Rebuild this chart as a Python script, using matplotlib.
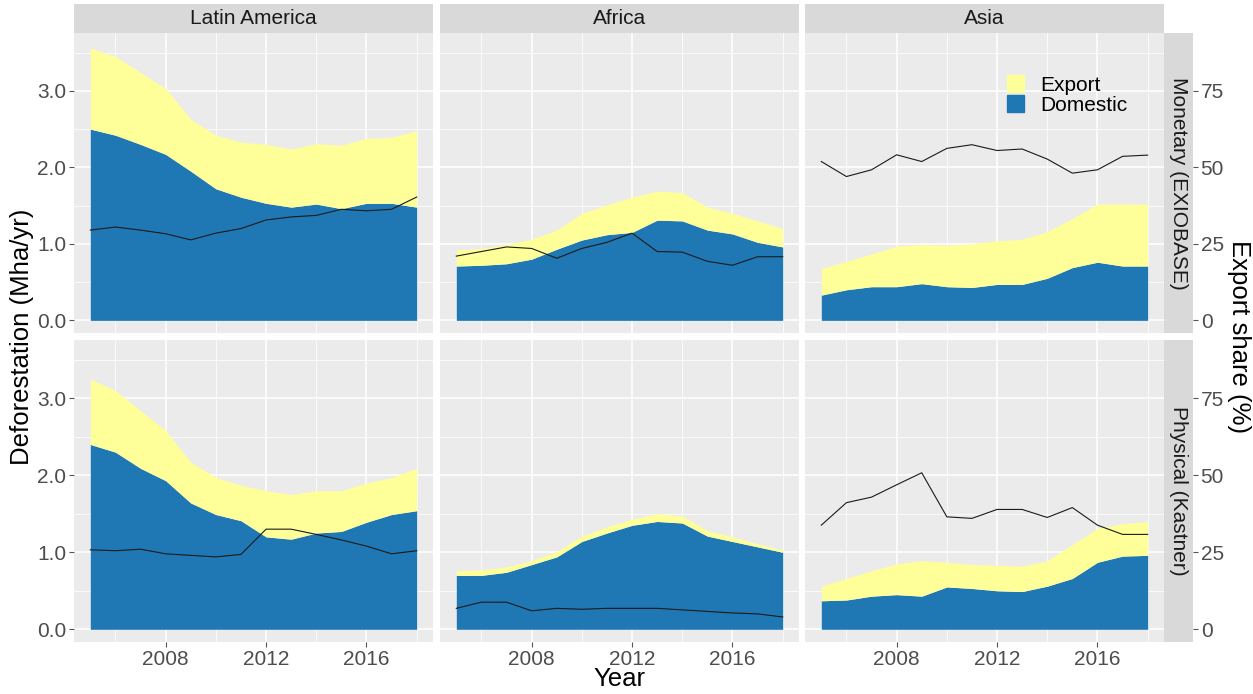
import matplotlib
matplotlib.use("Agg")
import matplotlib.pyplot as plt
from matplotlib.patches import Patch
import numpy as np

plt.rcParams['font.family'] = ['Liberation Sans', 'DejaVu Sans']

years = np.arange(2005, 2019)
regions = ["Latin America", "Africa", "Asia"]
methods = ["Monetary (EXIOBASE)", "Physical (Kastner)"]

# deforestation, Mha/yr
dom_mon = {
    "Latin America": [2.50, 2.42, 2.30, 2.17, 1.95, 1.72, 1.61, 1.53, 1.48, 1.52, 1.46, 1.53, 1.53, 1.48],
    "Africa": [0.71, 0.72, 0.74, 0.80, 0.93, 1.05, 1.12, 1.15, 1.31, 1.30, 1.18, 1.13, 1.02, 0.96],
    "Asia": [0.33, 0.40, 0.44, 0.44, 0.48, 0.44, 0.43, 0.47, 0.47, 0.55, 0.69, 0.76, 0.71, 0.71],
}
exp_mon = {
    "Latin America": [1.06, 1.03, 0.94, 0.86, 0.68, 0.70, 0.72, 0.77, 0.76, 0.79, 0.83, 0.85, 0.86, 1.00],
    "Africa": [0.21, 0.22, 0.25, 0.26, 0.25, 0.35, 0.39, 0.46, 0.38, 0.37, 0.30, 0.27, 0.28, 0.24],
    "Asia": [0.35, 0.37, 0.43, 0.53, 0.51, 0.54, 0.57, 0.57, 0.59, 0.61, 0.64, 0.76, 0.81, 0.81],
}
dom_phy = {
    "Latin America": [2.40, 2.30, 2.09, 1.93, 1.64, 1.49, 1.41, 1.20, 1.17, 1.25, 1.27, 1.39, 1.49, 1.54],
    "Africa": [0.70, 0.70, 0.74, 0.84, 0.94, 1.14, 1.25, 1.35, 1.40, 1.38, 1.21, 1.14, 1.07, 1.00],
    "Asia": [0.37, 0.38, 0.43, 0.45, 0.43, 0.55, 0.53, 0.50, 0.49, 0.56, 0.66, 0.87, 0.95, 0.96],
}
exp_phy = {
    "Latin America": [0.85, 0.80, 0.75, 0.65, 0.53, 0.48, 0.46, 0.60, 0.58, 0.55, 0.53, 0.51, 0.48, 0.55],
    "Africa": [0.06, 0.07, 0.07, 0.05, 0.07, 0.07, 0.08, 0.08, 0.10, 0.09, 0.07, 0.06, 0.04, 0.03],
    "Asia": [0.19, 0.28, 0.33, 0.40, 0.46, 0.32, 0.31, 0.33, 0.33, 0.33, 0.44, 0.44, 0.42, 0.44],
}
# export share, %
share_mon = {
    "Latin America": [29.5, 30.5, 29.5, 28.3, 26.3, 28.5, 30.0, 32.8, 33.8, 34.3, 36.3, 35.8, 36.3, 40.3],
    "Africa": [21.0, 22.5, 24.0, 23.5, 20.3, 23.5, 25.5, 28.5, 22.5, 22.3, 19.3, 18.0, 20.8, 20.8],
    "Asia": [51.9, 47.0, 49.2, 54.1, 51.9, 56.2, 57.4, 55.5, 56.0, 52.7, 48.1, 49.2, 53.6, 54.0],
}
share_phy = {
    "Latin America": [25.8, 25.5, 26.0, 24.5, 24.0, 23.5, 24.3, 32.5, 32.5, 30.8, 29.0, 27.0, 24.5, 25.5],
    "Africa": [6.8, 8.8, 8.8, 6.0, 6.8, 6.5, 6.8, 6.8, 6.8, 6.3, 5.8, 5.3, 5.0, 4.0],
    "Asia": [33.8, 41.1, 42.9, 46.9, 50.8, 36.5, 36.0, 38.9, 38.9, 36.3, 39.5, 33.8, 30.8, 30.8],
}

rows = [(dom_mon, exp_mon, share_mon), (dom_phy, exp_phy, share_phy)]

W, H = 1253, 694
col_x = [(74, 433), (440, 799), (805, 1164)]
row_y = [(33, 333), (340, 642)]
blue = "#1F78B4"
yellow = "#FFFF99"
ylim = (-0.165, 3.756)
xlim = (2004.35, 2018.65)
scale = 25.0


def box(x0, y0, x1, y1):
    return [x0 / W, 1 - y1 / H, (x1 - x0) / W, (y1 - y0) / H]


fig = plt.figure(figsize=(W / 100, H / 100), dpi=100)

for r, (dom, exp, share) in enumerate(rows):
    y0, y1 = row_y[r]
    for c, reg in enumerate(regions):
        x0, x1 = col_x[c]
        ax = fig.add_axes(box(x0, y0, x1, y1))
        ax.set_facecolor("#EBEBEB")
        d = np.array(dom[reg])
        e = np.array(exp[reg])
        ax.fill_between(years, 0, d, color=blue, lw=0, zorder=2)
        ax.fill_between(years, d, d + e, color=yellow, lw=0, zorder=2)
        ax.plot(years, np.array(share[reg]) / scale, color="#1A1A1A", lw=0.8, zorder=3)
        ax.set_xlim(*xlim)
        ax.set_ylim(*ylim)
        ax.set_xticks([2008, 2012, 2016])
        ax.set_xticks([2006, 2010, 2014, 2018], minor=True)
        ax.set_yticks([0, 1, 2, 3])
        ax.set_yticks([0.5, 1.5, 2.5, 3.5], minor=True)
        ax.grid(which="major", color="white", lw=1.1, zorder=1)
        ax.grid(which="minor", color="white", lw=0.55, zorder=1)
        ax.set_axisbelow(True)
        for s in ax.spines.values():
            s.set_visible(False)
        ax.tick_params(which="minor", length=0)
        ax.tick_params(which="major", length=3.5, width=0.8, color="#555555",
                       labelsize=15, labelcolor="#4D4D4D", pad=2)
        if c == 0:
            ax.set_yticklabels(["0.0", "1.0", "2.0", "3.0"])
        else:
            ax.tick_params(axis="y", length=0, labelleft=False)
        if r == 1:
            ax.set_xticklabels(["2008", "2012", "2016"])
        else:
            ax.tick_params(axis="x", length=0, labelbottom=False)

        if r == 0:
            st = fig.add_axes(box(x0, 4, x1, 33))
            st.set_facecolor("#D9D9D9")
            st.set_xticks([])
            st.set_yticks([])
            for s in st.spines.values():
                s.set_visible(False)
            st.text(0.5, 0.5, reg, ha="center", va="center", fontsize=15,
                    color="#1A1A1A", transform=st.transAxes)

        if c == 2 and r == 0:
            handles = [Patch(color=yellow, label="Export"), Patch(color=blue, label="Domestic")]
            ax.legend(handles=handles, loc="upper left", bbox_to_anchor=(0.562, 0.86),
                      frameon=False, fontsize=15, handlelength=0.85, handleheight=0.9,
                      labelspacing=0.0, handletextpad=0.75, borderaxespad=0, borderpad=0)

    # right strip
    st = fig.add_axes(box(1164, y0, 1193, y1))
    st.set_facecolor("#D9D9D9")
    st.set_xticks([])
    st.set_yticks([])
    for s in st.spines.values():
        s.set_visible(False)
    st.text(0.5, 0.5, methods[r], ha="center", va="center", rotation=-90,
            fontsize=15, color="#1A1A1A", transform=st.transAxes)

    # secondary axis (export share)
    sec = fig.add_axes(box(805, y0, 1193, y1))
    sec.patch.set_visible(False)
    for s in sec.spines.values():
        s.set_visible(False)
    sec.set_xticks([])
    sec.set_ylim(ylim[0] * scale, ylim[1] * scale)
    sec.yaxis.tick_right()
    sec.set_yticks([0, 25, 50, 75])
    sec.tick_params(axis="y", length=3.5, width=0.8, color="#555555",
                    labelsize=15, labelcolor="#4D4D4D", pad=2)

fig.text(22 / W, 1 - 337 / H, "Deforestation (Mha/yr)", rotation=90, ha="center",
         va="center", fontsize=18.5)
fig.text(1239 / W, 1 - 337 / H, "Export share (%)", rotation=-90, ha="center",
         va="center", fontsize=18.5)
fig.text(619 / W, 1 - 679 / H, "Year", ha="center", va="center", fontsize=18.5)

fig.savefig("out.png", dpi=100)
